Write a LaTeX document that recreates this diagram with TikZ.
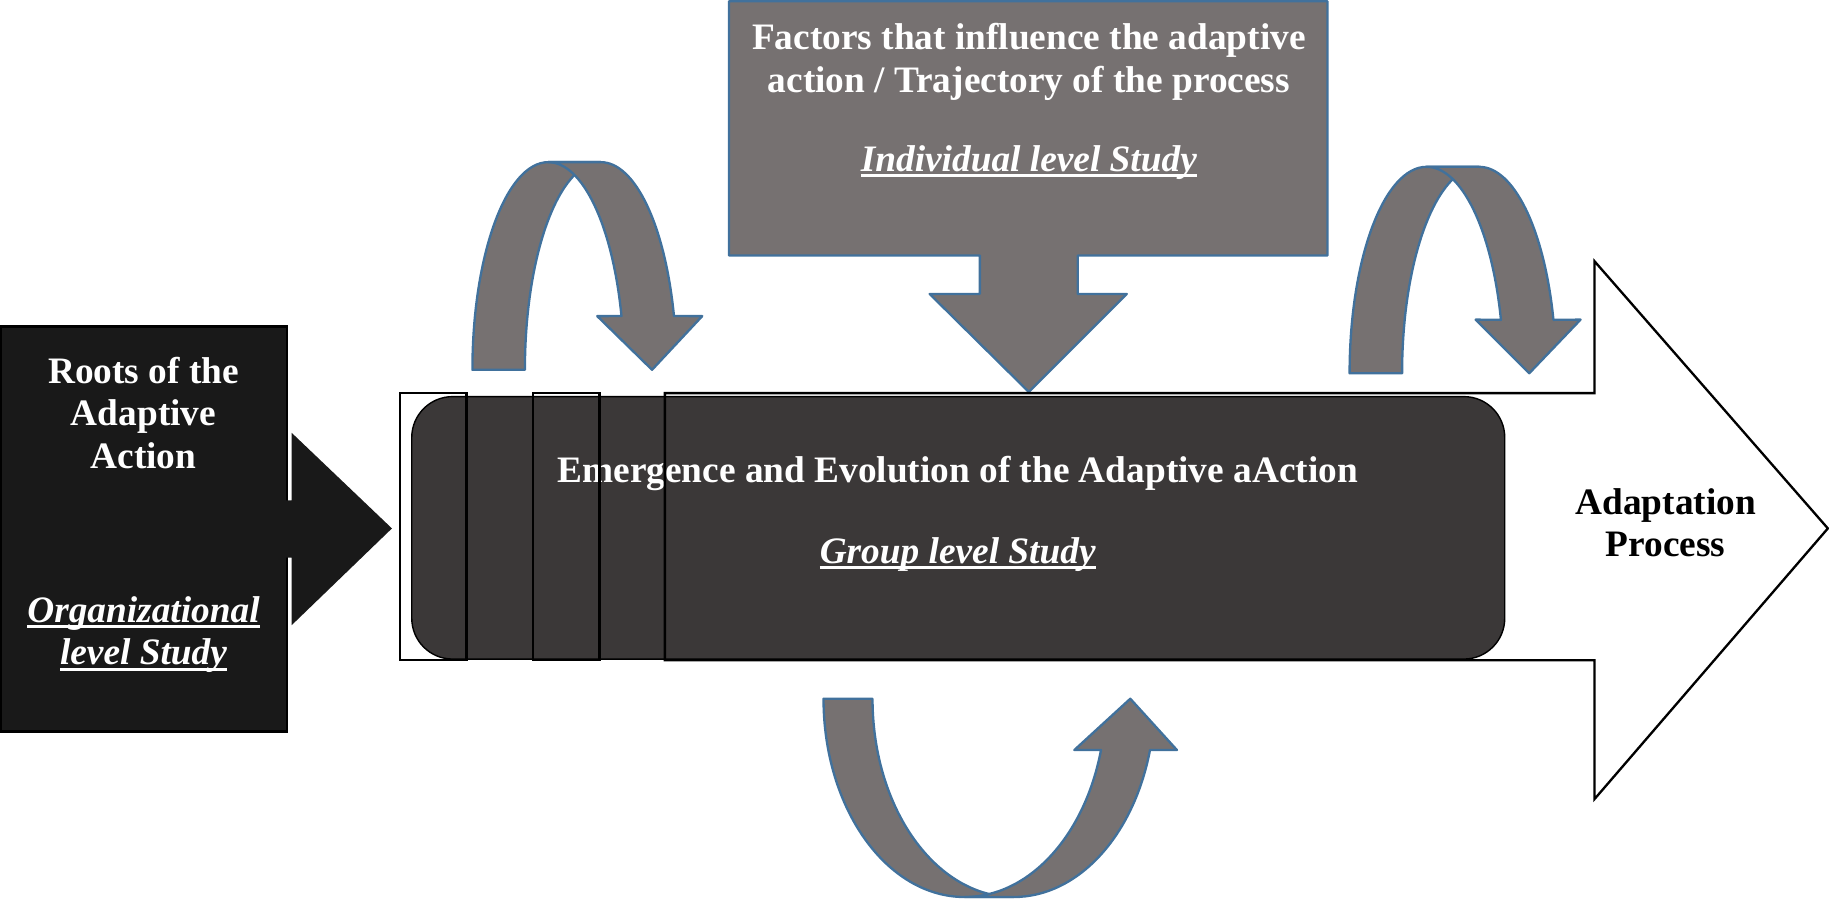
\documentclass[tikz,border=0pt]{standalone}
\usepackage{fontspec}
\setmainfont{Liberation Serif}
\usepackage{tikz}
\usetikzlibrary{calc}

\definecolor{boxgray}{HTML}{767171}
\definecolor{edgeblue}{HTML}{41719C}
\definecolor{darkbox}{HTML}{3B3838}
\definecolor{rootblack}{HTML}{191919}

\newcommand{\lvl}[1]{\setbox0=\hbox{#1}\rlap{\rule[-2.5pt]{\wd0}{1.3pt}}\box0}

\tikzset{
	loopfill/.style={fill=boxgray, draw=edgeblue, line width=1pt, line join=round},
	stripe/.style={draw=black, line width=1pt},
	txt/.style={font=\fontsize{16}{18.25}\selectfont\bfseries, align=center, inner sep=0pt},
}

\begin{document}
\begin{tikzpicture}[x=0.5pt, y=-0.5pt]
		%frame of the picture
		\useasboundingbox (0,0) rectangle (1568,773);
		
		%centres of the ellipses of the curved arrows
		\coordinate (la) at (470,317);
		\coordinate (lb) at (515,317);
		\coordinate (ra) at (1223,320);
		\coordinate (rb) at (1268,320);
		\coordinate (ba) at (827,599);
		\coordinate (bb) at (869,599);
		
		%roots of the adaptive action
		\draw [fill=rootblack, line width=1pt] (1,280) rectangle (246,627);
		\fill [rootblack] (240,429) -- (250,429) -- (250,371) -- (336,453) -- (250,536) -- (250,478) -- (240,478) -- cycle;
		\node [txt, text=white] (roots) at (123,354) {Roots of the\\Adaptive\\Action};
		\node [txt, text=white] (orgstudy) at (123,544) {\textit{\lvl{Organizational}}\\\textit{\lvl{level Study}}};
		
		%factors box with its arrow
		\draw [loopfill] (625,1) -- (1138,1) -- (1138,219) -- (924,219) -- (924,252) -- (966,252) -- (882,336) -- (797,252) -- (840,252) -- (840,219) -- (625,219) -- cycle;
		\node [txt, text=white] (factors) at (882,53) {Factors that influence the adaptive\\action / Trajectory of the process};
		\node [txt, text=white] (indstudy) at (882,139) {\textit{\lvl{Individual level Study}}};
		
		%group level
		\draw [fill=darkbox, line width=0.6pt, rounded corners=17.5pt] (353,340) rectangle (1290,565);
		\node [txt, text=white] (emergence) at (821,406) {Emergence and Evolution of the Adaptive aAction};
		\node [txt, text=white] (groupstudy) at (821,475) {\textit{\lvl{Group level Study}}};
		
		%adaptation process
		\node [txt] (adaptation) at (1428,448) {Adaptation\\Process};
		
		%curved arrow, top left
		\draw [loopfill] (la) ++(180:65 and 178) arc [start angle=180, end angle=270, x radius=65, y radius=178] -- ($(lb)+(0,-178)$) arc [start angle=270, end angle=180, x radius=65, y radius=178] -- cycle;
		\draw [loopfill] ($(la)+(0,-178)$) -- ($(lb)+(0,-178)$) arc [start angle=270, end angle=345, x radius=65, y radius=178] -- (602,271) -- (559,317) -- (512,271) -- ($(la)+(345:65 and 178)$) arc [start angle=345, end angle=270, x radius=65, y radius=178] -- cycle;
		
		%curved arrow, top right
		\draw [loopfill] (ra) ++(180:66 and 177) arc [start angle=180, end angle=270, x radius=66, y radius=177] -- ($(rb)+(0,-177)$) arc [start angle=270, end angle=180, x radius=66, y radius=177] -- cycle;
		\draw [loopfill] ($(ra)+(0,-177)$) -- ($(rb)+(0,-177)$) arc [start angle=270, end angle=345, x radius=66, y radius=177] -- (1355,274) -- (1311,320) -- (1265,274) -- ($(ra)+(345:66 and 177)$) arc [start angle=345, end angle=270, x radius=66, y radius=177] -- cycle;
		
		%curved arrow, bottom
		\draw [loopfill] (ba) ++(180:121 and 170) arc [start angle=180, end angle=90, x radius=121, y radius=170] -- ($(bb)+(0,170)$) arc [start angle=90, end angle=180, x radius=121, y radius=170] -- cycle;
		\draw [loopfill] ($(ba)+(0,170)$) -- ($(bb)+(0,170)$) arc [start angle=90, end angle=15, x radius=121, y radius=170] -- (1009,643) -- (969,599) -- (921,643) -- ($(ba)+(15:121 and 170)$) arc [start angle=15, end angle=90, x radius=121, y radius=170] -- cycle;
		
		%striped arrow of the adaptation process
		\draw [stripe] (343,337) rectangle (400,566);
		\draw [stripe] (457,337) rectangle (514,566);
		\draw [stripe] (570,337) -- (1367,337) -- (1367,224) -- (1567,453) -- (1367,685) -- (1367,566) -- (570,566) -- cycle;
	\end{tikzpicture}
\end{document}
